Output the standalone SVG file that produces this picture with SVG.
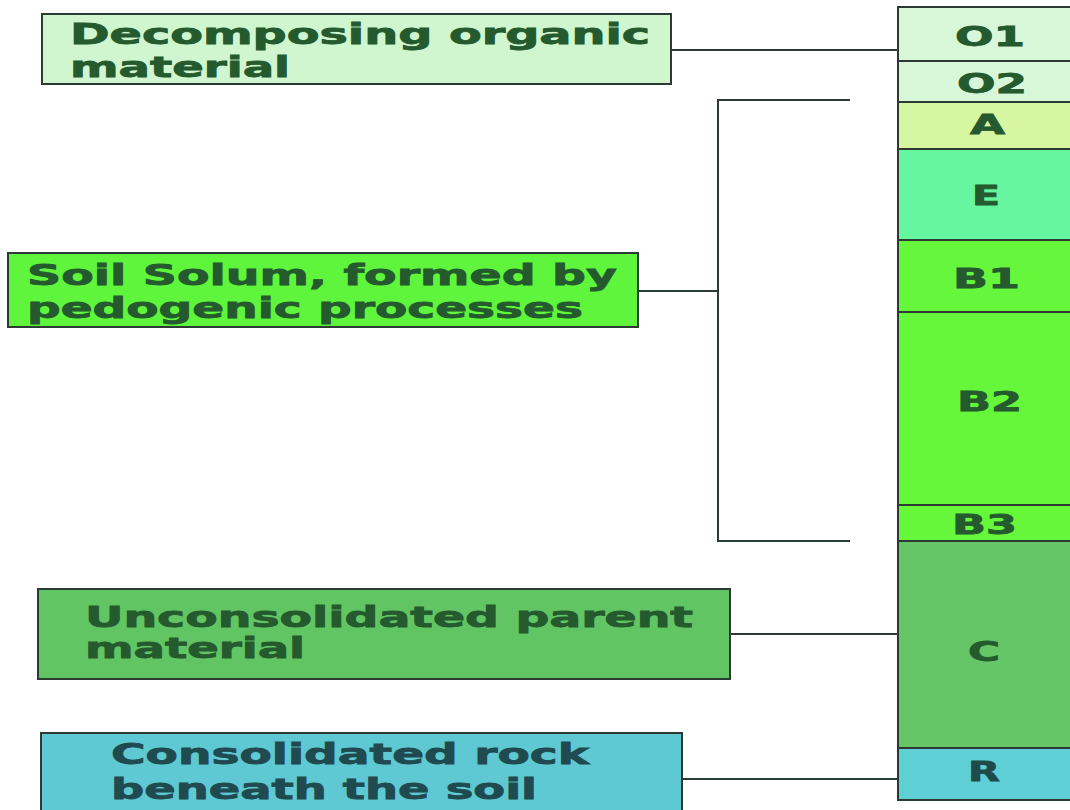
<svg xmlns="http://www.w3.org/2000/svg" width="1070" height="810" viewBox="0 0 1070 810">
<style>
.lay{stroke:#2d3a33;stroke-width:2}
.box{stroke:#2d3a33;stroke-width:2}
.t{font-family:"DejaVu Sans",Verdana,sans-serif;font-weight:bold;font-size:28px;fill:#245a2e;stroke:#245a2e;stroke-width:0.8}
.lt{font-family:"DejaVu Sans",Verdana,sans-serif;font-weight:bold;font-size:26px;fill:#245a2e;stroke:#245a2e;stroke-width:0.8}
.con{stroke:#2d3a33;stroke-width:2;fill:none}
</style>
<rect width="1070" height="810" fill="#ffffff"/>
<g id="connectors">
<line class="con" x1="671" y1="50" x2="898" y2="50"/>
<polyline class="con" points="850,100 718,100 718,541 850,541"/>
<line class="con" x1="638" y1="291" x2="718" y2="291"/>
<line class="con" x1="730" y1="634" x2="898" y2="634"/>
<line class="con" x1="682" y1="779" x2="898" y2="779"/>
</g>
<g id="column">
<g id="O1"><rect class="lay" x="898" y="7" width="180" height="54" fill="#d8f6d8"/><text class="lt" x="955" y="46" textLength="70" lengthAdjust="spacingAndGlyphs">O1</text></g>
<g id="O2"><rect class="lay" x="898" y="61" width="180" height="41" fill="#d8f6d8"/><text class="lt" x="957" y="93" textLength="70" lengthAdjust="spacingAndGlyphs">O2</text></g>
<g id="A"><rect class="lay" x="898" y="102" width="180" height="47" fill="#d6f6a2"/><text class="lt" x="970" y="134" textLength="35" lengthAdjust="spacingAndGlyphs">A</text></g>
<g id="E"><rect class="lay" x="898" y="149" width="180" height="91" fill="#66f6a0"/><text class="lt" x="972" y="205" textLength="28" lengthAdjust="spacingAndGlyphs">E</text></g>
<g id="B1"><rect class="lay" x="898" y="240" width="180" height="72" fill="#66f63c"/><text class="lt" x="953" y="288" textLength="67" lengthAdjust="spacingAndGlyphs">B1</text></g>
<g id="B2"><rect class="lay" x="898" y="312" width="180" height="193" fill="#66f63a"/><text class="lt" x="957" y="411" textLength="65" lengthAdjust="spacingAndGlyphs">B2</text></g>
<g id="B3"><rect class="lay" x="898" y="505" width="180" height="36" fill="#66f63a"/><text class="lt" x="952" y="534" textLength="65" lengthAdjust="spacingAndGlyphs">B3</text></g>
<g id="C"><rect class="lay" x="898" y="541" width="180" height="207" fill="#66c566"/><text class="lt" x="968" y="661" textLength="32" lengthAdjust="spacingAndGlyphs">C</text></g>
<g id="R"><rect class="lay" x="898" y="748" width="180" height="52" fill="#5fcfd6"/><text class="lt" x="968" y="781" textLength="32" lengthAdjust="spacingAndGlyphs" style="fill:#1f4a4a;stroke:#1f4a4a">R</text></g>
</g>
<g id="node-organic">
<rect class="box" x="42" y="14" width="629" height="70" fill="#cff6cf"/>
<text class="t" x="70" y="44" textLength="580" lengthAdjust="spacingAndGlyphs">Decomposing organic</text>
<text class="t" x="70" y="77" textLength="220" lengthAdjust="spacingAndGlyphs">material</text>
</g>
<g id="node-solum">
<rect class="box" x="8" y="253" width="630" height="74" fill="#5ef53c"/>
<text class="t" x="27" y="285" textLength="590" lengthAdjust="spacingAndGlyphs">Soil Solum, formed by</text>
<text class="t" x="27" y="318" textLength="556" lengthAdjust="spacingAndGlyphs">pedogenic processes</text>
</g>
<g id="node-parent">
<rect class="box" x="38" y="589" width="692" height="90" fill="#62c564"/>
<text class="t" x="85" y="627" textLength="608" lengthAdjust="spacingAndGlyphs">Unconsolidated parent</text>
<text class="t" x="85" y="658" textLength="220" lengthAdjust="spacingAndGlyphs">material</text>
</g>
<g id="node-rock">
<rect class="box" x="41" y="733" width="641" height="82" fill="#5ec9d2"/>
<text class="t" x="111" y="764" textLength="478" lengthAdjust="spacingAndGlyphs" style="fill:#1f4a4f;stroke:#1f4a4f">Consolidated rock</text>
<text class="t" x="111" y="799" textLength="426" lengthAdjust="spacingAndGlyphs" style="fill:#1f4a4f;stroke:#1f4a4f">beneath the soil</text>
</g>
</svg>
